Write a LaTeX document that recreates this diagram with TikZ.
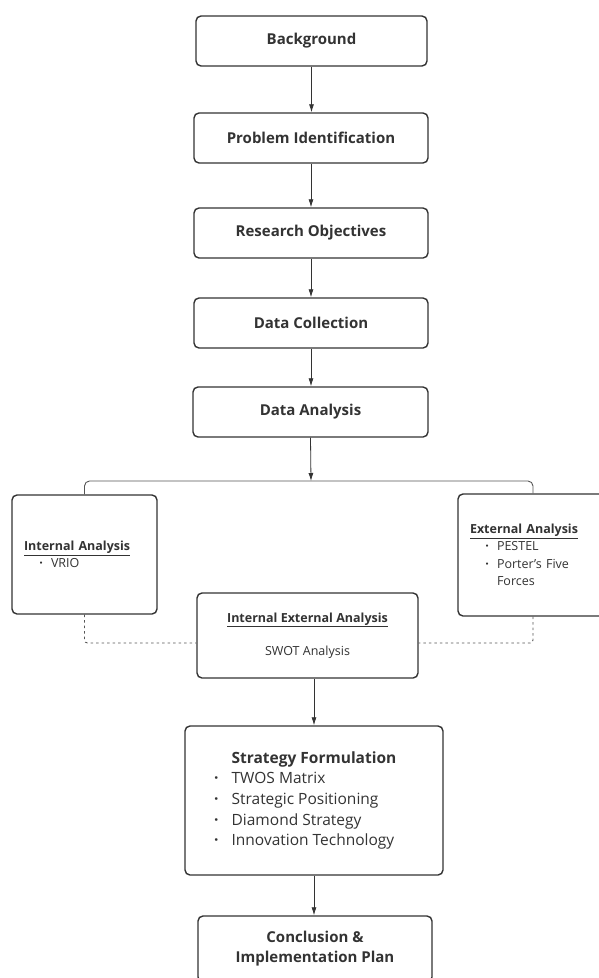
\documentclass[tikz,border=0pt]{standalone}
\usepackage{fontspec}
\setmainfont{Open Sans}
\usepackage{xcolor}
\usepackage{tikz}
\usetikzlibrary{arrows.meta,calc,positioning}
\definecolor{ink}{HTML}{333333}
\definecolor{wire}{HTML}{555555}
\newcommand{\bul}{\hspace*{27pt}\llap{\textbf{·}\hspace{8pt}}}
\newcommand{\sbul}{\llap{\textbf{·}\hspace{13pt}}}
\tikzset{
  stepbox/.style={draw=ink, line width=1.4pt, rounded corners=5pt, fill=white, text=ink, align=center, minimum width=234pt, minimum height=50pt, font=\fontsize{15}{20}\selectfont\bfseries},
  sidebox/.style={draw=ink, line width=1.4pt, rounded corners=5pt, fill=white, text=ink, align=left, inner xsep=12pt, font=\fontsize{12.5}{17.5}\selectfont},
  arr/.style={draw=ink, line width=0.8pt, -{Latex[length=8pt,width=5pt]}},
  link/.style={draw=wire, line width=0.9pt, rounded corners=5pt},
  dashlink/.style={draw=wire, line width=0.9pt, dash pattern=on 2.5pt off 3pt, rounded corners=3pt}
}

\begin{document}
\begin{tikzpicture}[x=1pt,y=-1pt]
	\useasboundingbox (0,0) rectangle (599,978);
	\node[stepbox,minimum width=231pt] (bg) at (311.5,41) {Background};
	\node[stepbox] (prob) at (311,138) {Problem Identification};
	\node[stepbox] (obj) at (311,233) {Research Objectives};
	\node[stepbox] (coll) at (311,323) {Data Collection};
	\node[stepbox,minimum width=235pt] (ana) at (310.5,412) {Data Analysis};
	\coordinate (fork) at (311,481);
	\node[sidebox,minimum width=145pt,minimum height=119pt,text width=121pt] (int) at (84.5,554.5)
		{\underline{\textbf{Internal Analysis}}\\ \bul VRIO};
	\node[sidebox,minimum width=150pt,minimum height=122pt,text width=126pt] (ext) at (533,555)
		{\underline{\textbf{External Analysis}}\\ \bul PESTEL\\ \bul Porter's Five\\ \hspace*{27pt}Forces};
	\node[sidebox,align=center,minimum width=221pt,minimum height=85pt,font=\fontsize{12.5}{33}\selectfont] (swot) at (307.5,635.5)
		{\underline{\textbf{Internal External Analysis}}\\ SWOT Analysis};
	\node[stepbox,align=left,minimum width=258pt,minimum height=149pt,font=\fontsize{15.5}{20.7}\selectfont] (strat) at (314,800.5)
		{\textbf{Strategy Formulation}\\ \sbul TWOS Matrix\\ \sbul Strategic Positioning\\ \sbul Diamond Strategy\\ \sbul Innovation Technology};
	\node[stepbox,minimum height=66pt] (concl) at (315,949) {Conclusion \&\\ Implementation Plan};
	\draw[arr] (bg.south) -- (bg.south |- prob.north);
	\draw[arr] (prob.south) -- (prob.south |- obj.north);
	\draw[arr] (obj.south) -- (obj.south |- coll.north);
	\draw[arr] (coll.south) -- (coll.south |- ana.north);
	\draw[link] (int.north) |- (fork) -| (ext.north);
	\draw[arr] (ana.south) -- (fork);
	\draw[dashlink] (int.south) |- ([yshift=-7.5pt]swot.west);
	\draw[dashlink] (ext.south) |- ([yshift=-7.5pt]swot.east);
	\draw[arr] (swot.south -| strat.north) -- (strat.north);
	\draw[arr] (strat.south) -- (strat.south |- concl.north);
\end{tikzpicture}
\end{document}
